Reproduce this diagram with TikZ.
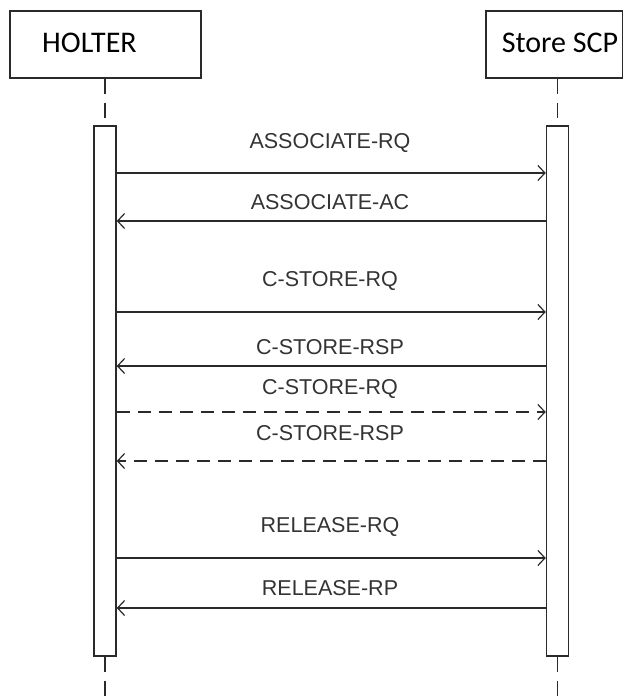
\documentclass[tikz,border=0pt]{standalone}
\usepackage{fontspec}
\setmainfont{Liberation Sans}
\newfontfamily\boxfont{Carlito}
\usetikzlibrary{arrows.meta}
\definecolor{linec}{HTML}{2A2A2A}
\definecolor{textc}{HTML}{333333}
\begin{document}
\begin{tikzpicture}[x=1pt,y=-1pt,
  actor/.style={draw=linec,line width=1.6pt,fill=white,minimum height=67pt,inner sep=0pt},
  atext/.style={text=black,font=\boxfont\fontsize{30}{32}\selectfont,inner sep=0pt},
  bar/.style={draw=linec,line width=1.5pt,fill=white,minimum width=22pt,inner sep=0pt},
  life/.style={draw=linec,line width=1.6pt,dash pattern=on 15pt off 9pt},
  msg/.style={draw=linec,line width=1.2pt,-{Straight Barb[length=7pt,width=15pt,line width=1.2pt]}},
  dmsg/.style={msg,dash pattern=on 13pt off 8pt},
  lbl/.style={font=\fontsize{21.5}{23}\selectfont,text=textc,inner sep=0pt}]
\useasboundingbox (0,0) rectangle (622,698);
% actor boxes
\node[actor,minimum width=191pt,anchor=north west] (holter) at (9,10) {};
\node[atext,anchor=west] (holtert) at (42,43) {HOLTER};
\node[actor,minimum width=137pt,anchor=north west] (scp) at (485,10) {};
\node[atext,anchor=center] (scpt) at (560,43) {Store SCP};
% activation bars
\node[bar,minimum height=530pt,anchor=north] (hb) at (105,125) {};
\node[bar,minimum height=530pt,anchor=north] (sb) at (557.5,125) {};
% lifelines
\coordinate (hend) at (105,698);
\coordinate (send) at (557.5,698);
\draw[life] (holter.south -| hb.north) -- (hb.north);
\draw[life] (scp.south -| sb.north) -- (sb.north);
\draw[life] (hb.south) -- (hend);
\draw[life] (sb.south) -- (send);
% message levels
\coordinate (m1) at (0,173);
\coordinate (m2) at (0,221);
\coordinate (m3) at (0,312);
\coordinate (m4) at (0,366);
\coordinate (m5) at (0,412);
\coordinate (m6) at (0,461);
\coordinate (m7) at (0,558);
\coordinate (m8) at (0,608);
\draw[msg] (hb.east |- m1) -- (sb.west |- m1);
\draw[msg] (sb.west |- m2) -- (hb.east |- m2);
\draw[msg] (hb.east |- m3) -- (sb.west |- m3);
\draw[msg] (sb.west |- m4) -- (hb.east |- m4);
\draw[dmsg] (hb.east |- m5) -- (sb.west |- m5);
\draw[dmsg] (sb.west |- m6) -- (hb.east |- m6);
\draw[msg] (hb.east |- m7) -- (sb.west |- m7);
\draw[msg] (sb.west |- m8) -- (hb.east |- m8);
% labels
\node[lbl] (l1) at (330,143) {ASSOCIATE-RQ};
\node[lbl] (l2) at (330,202) {ASSOCIATE-AC};
\node[lbl] (l3) at (330,281) {C-STORE-RQ};
\node[lbl] (l4) at (330,347) {C-STORE-RSP};
\node[lbl] (l5) at (330,389) {C-STORE-RQ};
\node[lbl] (l6) at (330,433) {C-STORE-RSP};
\node[lbl] (l7) at (330,527) {RELEASE-RQ};
\node[lbl] (l8) at (330,588) {RELEASE-RP};
\end{tikzpicture}
\end{document}
